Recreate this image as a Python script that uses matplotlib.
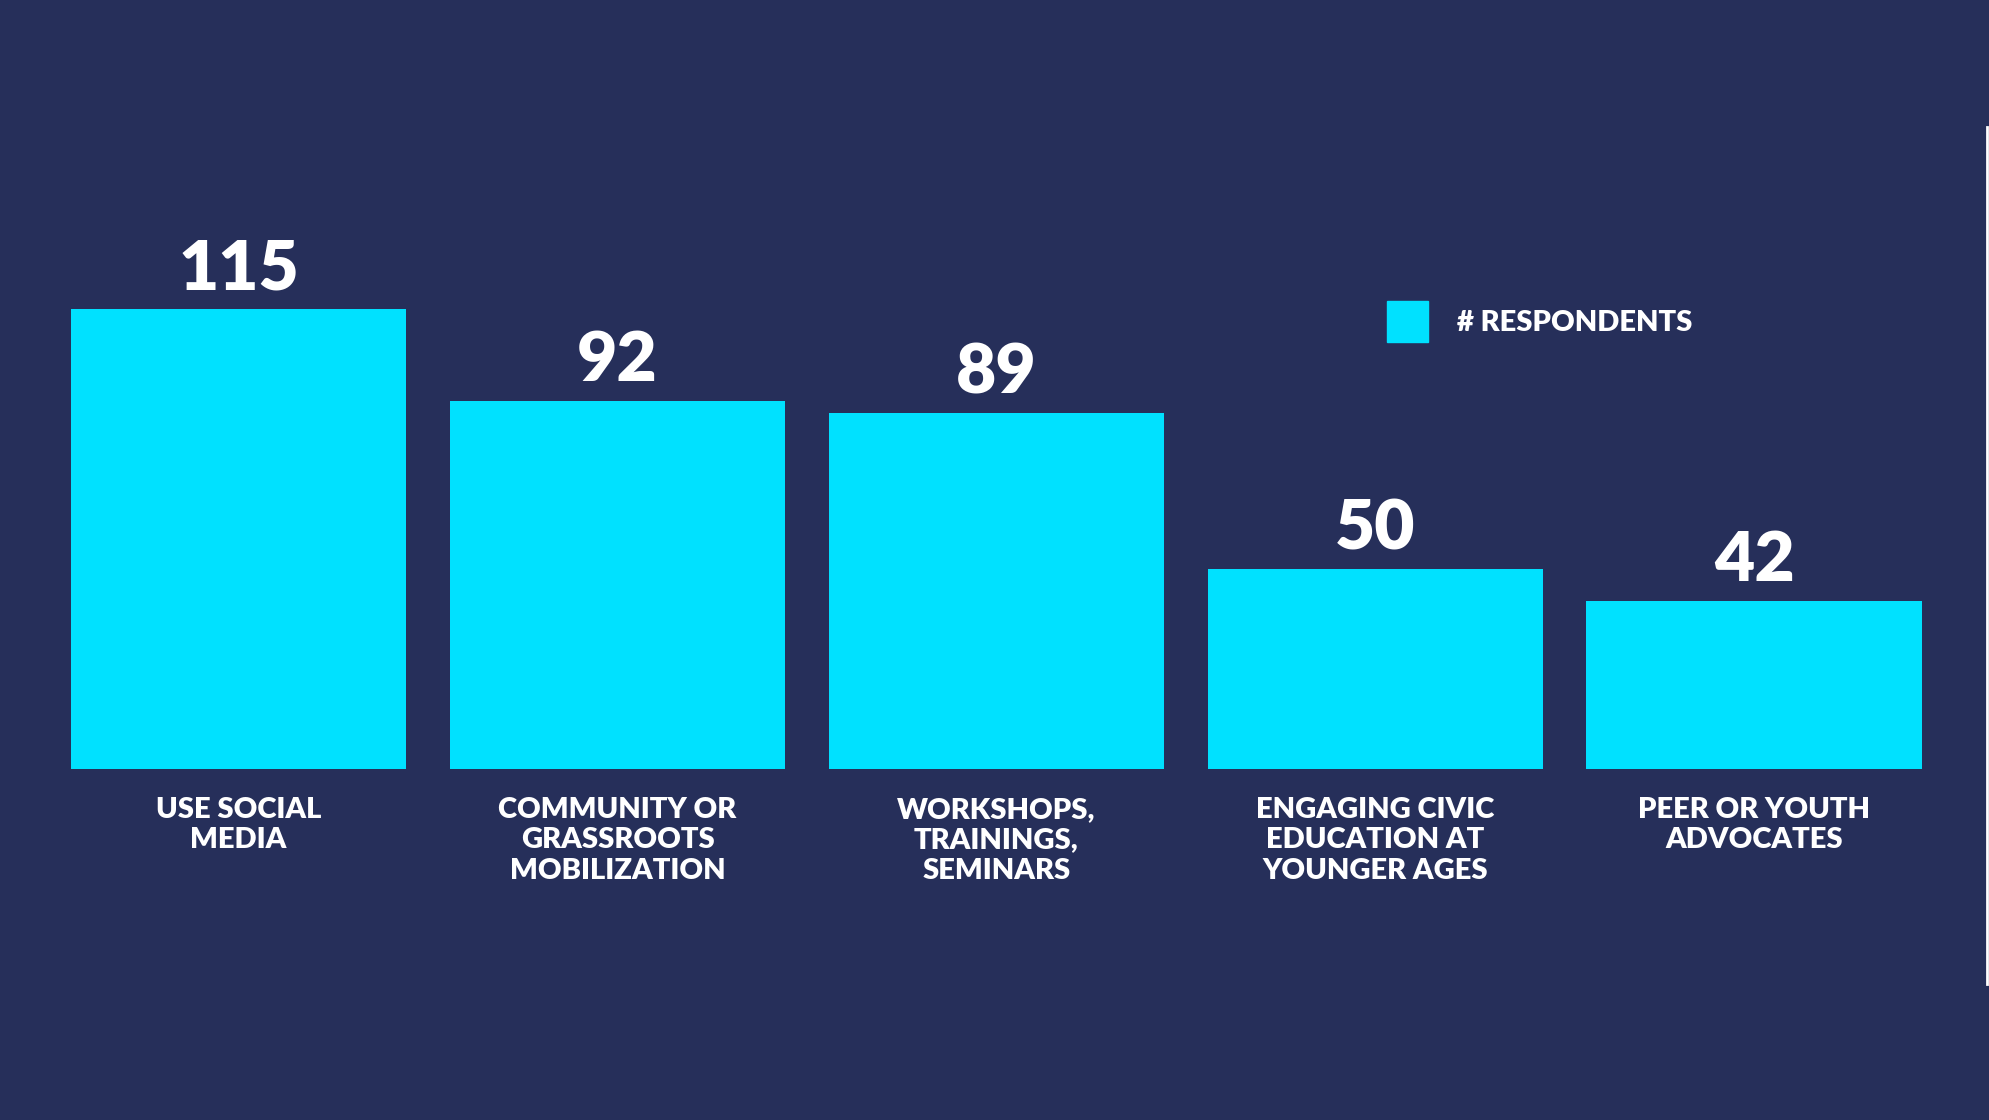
import matplotlib
matplotlib.use("Agg")
import matplotlib.pyplot as plt
from matplotlib.patches import Rectangle

categories = ["USE SOCIAL\nMEDIA", "COMMUNITY OR\nGRASSROOTS\nMOBILIZATION",
              "WORKSHOPS,\nTRAININGS,\nSEMINARS", "ENGAGING CIVIC\nEDUCATION AT\nYOUNGER AGES",
              "PEER OR YOUTH\nADVOCATES"]
values = [115, 92, 89, 50, 42]
legend_label = "# RESPONDENTS"

bg = "#262f5a"
bar_c = "#00e1ff"
fig = plt.figure(figsize=(19.9, 11.2), dpi=100, facecolor=bg)
ax = fig.add_axes([0.0357, 0.313, 0.93, 0.50])
ax.set_facecolor(bg)
x = range(len(values))
ax.bar(x, values, width=0.885, color=bar_c)
ax.set_xlim(-0.4425, len(values) - 1 + 0.4425)
ax.set_ylim(0, 140)
for s in ax.spines.values():
    s.set_visible(False)
ax.set_yticks([])
ax.set_xticks(list(x))
ax.set_xticklabels(categories, fontsize=21, fontweight="heavy", color="white",
                   family="Lato", linespacing=1.2, va="top")
ax.tick_params(axis="x", length=0, pad=20)
for i, v in zip(x, values):
    ax.text(i, v + 2, str(v), ha="center", va="bottom", fontsize=50,
            fontweight="heavy", color="white", family="Lato")

fig.patches.append(Rectangle((1093/1568, 1 - 269/882), 32/1568, 32/882,
                             transform=fig.transFigure, color=bar_c))
fig.text(1148/1568, 1 - 254/882, legend_label, fontsize=21, fontweight="heavy",
         color="white", family="Lato", va="center")
fig.add_artist(plt.Line2D([1566/1568, 1566/1568], [1 - 100/882, 1 - 775/882],
                          color="white", lw=2, transform=fig.transFigure))
fig.savefig("out.png", facecolor=bg)
